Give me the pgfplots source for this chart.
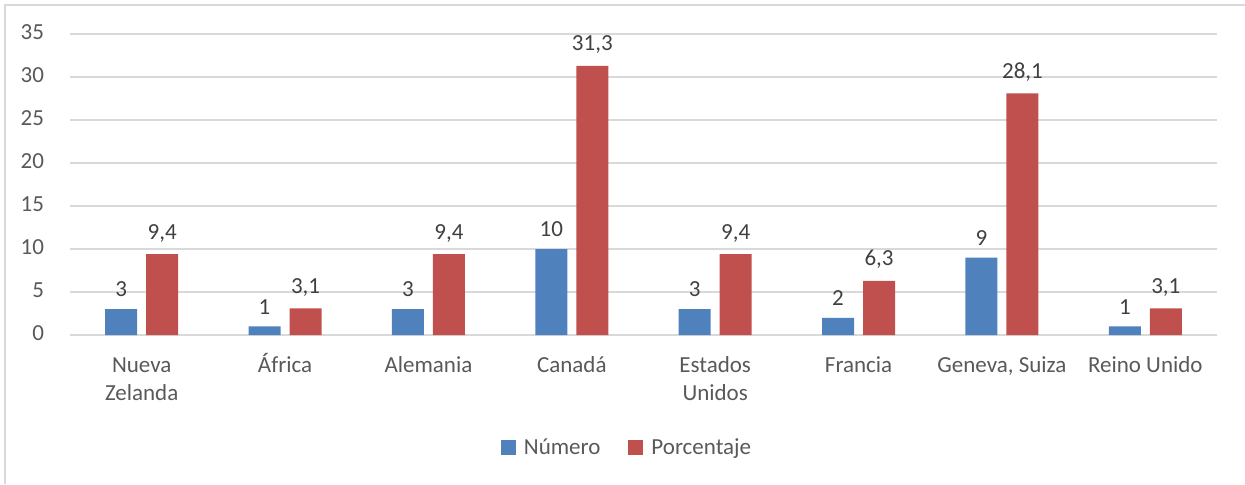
\documentclass[border=0pt]{standalone}
\usepackage{pgfplots}
\pgfplotsset{compat=1.18}
\usepackage{fontspec}
\setmainfont{Carlito}
\definecolor{cblue}{HTML}{4F81BD}
\definecolor{cred}{HTML}{C0504D}
\definecolor{cgrid}{HTML}{D9D9D9}
\definecolor{ctext}{HTML}{595959}
\definecolor{clabel}{HTML}{404040}
\begin{document}
\fontsize{11.5}{14}\selectfont
\begin{tikzpicture}
\path[use as bounding box] (-35pt,-74.5pt) rectangle (587.5pt,167.5pt);
\draw[cgrid, line width=1pt] (-32.5pt,-74.5pt) -- (-32.5pt,165pt) -- (587.5pt,165pt);
\begin{axis}[
  at={(0,0)}, anchor=south west,
  scale only axis, width=573.5pt, height=150.5pt,
  ybar=4.5pt, bar width=16pt,
  xmin=-0.5, xmax=7.5, ymin=0, ymax=35,
  xtick={0,...,7},
  xticklabels={Nueva\\Zelanda, África, Alemania, Canadá, Estados\\Unidos, Francia, {Geneva, Suiza}, Reino Unido},
  typeset ticklabels with strut,
  xticklabel style={align=center, anchor=north, text=ctext, font=\fontsize{11.5}{14}\selectfont, yshift=-5pt},
  ytick={0,5,...,35},
  yticklabel style={text=ctext, font=\fontsize{11.5}{14}\selectfont, xshift=-9pt},
  /pgf/number format/assume math mode=true,
  major tick length=0pt,
  ymajorgrids, grid style={cgrid, line width=0.8pt},
  axis x line*=bottom, axis y line*=left,
  x axis line style={cgrid, line width=0.8pt, -},
  y axis line style={draw=none},
  nodes near coords,
  every node near coord/.append style={text=clabel, font=\fontsize{11.5}{14}\selectfont, yshift=2pt, /pgf/number format/use comma, /pgf/number format/fixed, /pgf/number format/precision=1, /pgf/number format/assume math mode=true},
  legend columns=2,
  legend style={draw=none, fill=none, at={(0.4865,-0.375)}, anchor=center, font=\fontsize{11.5}{14}\selectfont, text=ctext,
    /tikz/every odd column/.append style={column sep=2pt},
    /tikz/every even column/.append style={column sep=12pt}},
  legend image code/.code={\fill[#1] (0pt,-3.75pt) rectangle (7.5pt,3.75pt);},
]
\addplot[fill=cblue, draw=none] coordinates {(0,3) (1,1) (2,3) (3,10) (4,3) (5,2) (6,9) (7,1)};
\addplot[fill=cred, draw=none] coordinates {(0,9.4) (1,3.1) (2,9.4) (3,31.3) (4,9.4) (5,6.3) (6,28.1) (7,3.1)};
\legend{Número, Porcentaje}
\end{axis}
\end{tikzpicture}
\end{document}
